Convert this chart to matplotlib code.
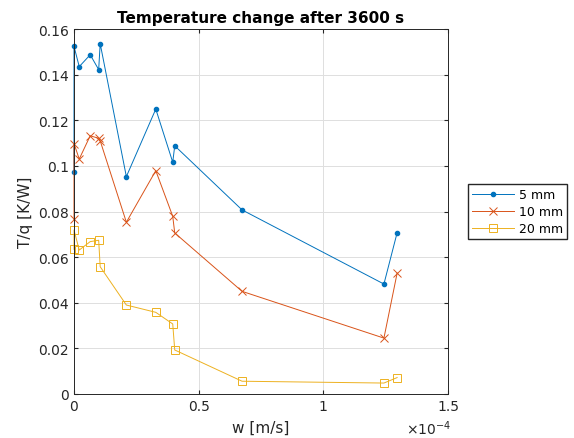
import numpy as np
import matplotlib.pyplot as plt
from matplotlib.ticker import FuncFormatter

# flow speed w [m/s] (same for all three series)
w = np.array([0, 0, 0.021, 0.065, 0.099, 0.105, 0.210, 0.328, 0.396, 0.404,
              0.674, 1.243, 1.296]) * 1e-4

# T/q [K/W]
t5 = [0.0972, 0.1524, 0.1435, 0.1487, 0.1422, 0.1536, 0.0953, 0.1249,
      0.1016, 0.1088, 0.0807, 0.0482, 0.0707]
t10 = [0.0765, 0.1098, 0.1030, 0.1132, 0.1121, 0.1110, 0.0753, 0.0979,
       0.0779, 0.0706, 0.0450, 0.0245, 0.0530]
t20 = [0.0634, 0.0719, 0.0631, 0.0668, 0.0674, 0.0558, 0.0390, 0.0358,
       0.0307, 0.0193, 0.0056, 0.0048, 0.0072]

labels = ['5 mm', '10 mm', '20 mm']
colors = ['#0072BD', '#D95319', '#EDB120']

fig = plt.figure(figsize=(5.74, 4.39), dpi=100)
ax = fig.add_axes([74/574, 1 - 395/439, 374/574, 365/439])

ax.plot(w, t5, '.-', color=colors[0], lw=0.7, ms=6, label=labels[0], clip_on=False)
ax.plot(w, t10, 'x-', color=colors[1], lw=0.7, ms=6, mew=0.7, label=labels[1], clip_on=False)
ax.plot(w, t20, 's-', color=colors[2], lw=0.7, ms=6, mew=0.7, mfc='none', label=labels[2], clip_on=False)

ax.set_xlim(0, 1.5e-4)
ax.set_ylim(0, 0.16)
ax.set_xticks([0, 0.5e-4, 1e-4, 1.5e-4])
ax.set_yticks(np.arange(0, 0.161, 0.02))
ax.xaxis.set_major_formatter(FuncFormatter(lambda v, p: f'{v*1e4:g}'))
ax.yaxis.set_major_formatter(FuncFormatter(lambda v, p: f'{v:g}'))
ax.grid(True, color='#dfdfdf', lw=0.7)
ax.set_axisbelow(True)
ax.tick_params(direction='in', top=True, right=True, labelsize=10,
               colors='#262626', length=3)
for s in ax.spines.values():
    s.set_color('#262626')
    s.set_linewidth(0.7)

fig.text(406/574, 1 - 429/439, r'$\times10^{-4}$', ha='left', va='center',
         fontsize=10, color='#262626')
ax.set_xlabel('w [m/s]', fontsize=11, color='#262626', labelpad=5)
ax.set_ylabel('T/q [K/W]', fontsize=11, color='#262626')
ax.set_title('Temperature change after 3600 s', fontsize=11, fontweight='bold', pad=5)

ax.legend(loc='upper left', bbox_to_anchor=(468/574, 1 - 185/439),
          bbox_transform=fig.transFigure, borderaxespad=0, numpoints=1,
          fontsize=9, fancybox=False, edgecolor='#262626', framealpha=1,
          borderpad=0.35, handlelength=3.3, handletextpad=0.4, labelspacing=0.3)

fig.savefig('out.png', dpi=100)
